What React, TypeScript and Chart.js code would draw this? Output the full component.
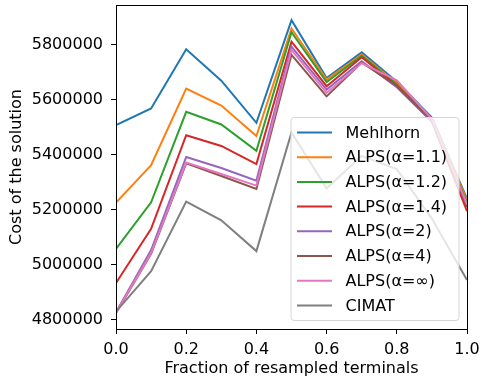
import React, { useEffect, useRef } from "react";
import { Chart, registerables } from "chart.js";

Chart.register(...registerables);

const fractions = [0.0, 0.1, 0.2, 0.3, 0.4, 0.5, 0.6, 0.7, 0.8, 0.9, 1.0];
const mehlhorn = [5508000, 5568000, 5783000, 5669000, 5516000, 5889000, 5679000, 5772000, 5665000, 5535000, 5240000];
const alps11 = [5226000, 5362000, 5640000, 5579000, 5468000, 5859000, 5673000, 5764000, 5660000, 5530000, 5235000];
const alps12 = [5058000, 5227000, 5556000, 5510000, 5414000, 5845000, 5664000, 5760000, 5655000, 5525000, 5225000];
const alps14 = [4934000, 5131000, 5471000, 5432000, 5366000, 5811000, 5649000, 5754000, 5650000, 5520000, 5195000];
const alps2 = [4828000, 5054000, 5392000, 5352000, 5306000, 5793000, 5637000, 5740000, 5645000, 5520000, 5215000];
const alps4 = [4825000, 5040000, 5369000, 5323000, 5276000, 5763000, 5612000, 5735000, 5650000, 5525000, 5210000];
const alpsInf = [4826000, 5043000, 5372000, 5330000, 5288000, 5781000, 5625000, 5733000, 5670000, 5530000, 5220000];
const cimat = [4830000, 4977000, 5230000, 5162000, 5050000, 5481000, 5278000, 5396000, 5348000, 5168000, 4945000];

const seriesNames = ["Mehlhorn", "ALPS(α=1.1)", "ALPS(α=1.2)", "ALPS(α=1.4)", "ALPS(α=2)", "ALPS(α=4)", "ALPS(α=∞)", "CIMAT"];
const seriesValues = [mehlhorn, alps11, alps12, alps14, alps2, alps4, alpsInf, cimat];
const seriesColors = ["#1f77b4", "#ff7f0e", "#2ca02c", "#d62728", "#9467bd", "#8c564b", "#e377c2", "#7f7f7f"];

const xTicks = [0.0, 0.2, 0.4, 0.6, 0.8, 1.0];
const yTicks = [4800000, 5000000, 5200000, 5400000, 5600000, 5800000];

const FONT = "DejaVu Sans";

const framePlugin = {
  id: "frame",
  afterDatasetsDraw(chart: any) {
    const { ctx, chartArea } = chart;
    ctx.save();
    ctx.strokeStyle = "#000";
    ctx.lineWidth = 1;
    ctx.strokeRect(
      Math.round(chartArea.left) + 0.5,
      Math.round(chartArea.top) + 0.5,
      Math.round(chartArea.right - chartArea.left),
      Math.round(chartArea.bottom - chartArea.top)
    );
    ctx.restore();
  },
  afterDraw(chart: any) {
    const { ctx } = chart;
    const x0 = 291, y0 = 117.5, w = 168, h = 203;
    ctx.save();
    ctx.beginPath();
    const r = 3;
    ctx.moveTo(x0 + r, y0);
    ctx.lineTo(x0 + w - r, y0);
    ctx.quadraticCurveTo(x0 + w, y0, x0 + w, y0 + r);
    ctx.lineTo(x0 + w, y0 + h - r);
    ctx.quadraticCurveTo(x0 + w, y0 + h, x0 + w - r, y0 + h);
    ctx.lineTo(x0 + r, y0 + h);
    ctx.quadraticCurveTo(x0, y0 + h, x0, y0 + h - r);
    ctx.lineTo(x0, y0 + r);
    ctx.quadraticCurveTo(x0, y0, x0 + r, y0);
    ctx.closePath();
    ctx.fillStyle = "rgba(255,255,255,0.8)";
    ctx.fill();
    ctx.strokeStyle = "#d6d6d6";
    ctx.lineWidth = 1;
    ctx.stroke();
    ctx.font = `16px "${FONT}"`;
    ctx.textBaseline = "middle";
    ctx.textAlign = "left";
    seriesNames.forEach((name, i) => {
      const cy = 132.5 + i * 24.7;
      ctx.strokeStyle = seriesColors[i];
      ctx.lineWidth = 2;
      ctx.beginPath();
      ctx.moveTo(297, cy);
      ctx.lineTo(332, cy);
      ctx.stroke();
      ctx.fillStyle = "#000";
      ctx.fillText(name, 345.5, cy + 1);
    });
    ctx.restore();
  },
};

export default function App() {
  const ref = useRef<HTMLCanvasElement | null>(null);
  useEffect(() => {
    document.body.style.margin = "0";
    const canvas = ref.current!;
    const chart = new Chart(canvas, {
      type: "line",
      data: {
        datasets: seriesNames.map((name, i) => ({
          label: name,
          data: fractions.map((x, j) => ({ x, y: seriesValues[i][j] })),
          borderColor: seriesColors[i],
          backgroundColor: seriesColors[i],
          borderWidth: 2,
          pointRadius: 0,
          tension: 0,
          fill: false,
          order: 10 - i,
        })),
      },
      options: {
        animation: false,
        responsive: false,
        maintainAspectRatio: false,
        layout: { padding: { top: 5, right: 15, left: 0, bottom: 0 } },
        plugins: { legend: { display: false }, tooltip: { enabled: false } },
        scales: {
          x: {
            type: "linear",
            min: 0,
            max: 1,
            afterBuildTicks: (axis: any) => {
              axis.ticks = xTicks.map((v) => ({ value: v }));
            },
            afterFit: (axis: any) => {
              axis.height = 52;
              axis.paddingLeft = 0;
              axis.paddingRight = 0;
            },
            ticks: {
              callback: (v: any) => Number(v).toFixed(1),
              font: { family: FONT, size: 16 },
              color: "#000",
              padding: 6,
              maxRotation: 0,
            },
            grid: { drawOnChartArea: false, drawTicks: true, tickLength: 5, color: "#000" },
            border: { display: false },
            title: {
              display: true,
              text: "Fraction of resampled terminals",
              font: { family: FONT, size: 16 },
              color: "#000",
              padding: { top: 2, bottom: 3 },
            },
          },
          y: {
            type: "linear",
            min: 4767000,
            max: 5944000,
            afterBuildTicks: (axis: any) => {
              axis.ticks = yTicks.map((v) => ({ value: v }));
            },
            afterFit: (axis: any) => {
              axis.width = 116;
              axis.paddingTop = 0;
              axis.paddingBottom = 0;
            },
            ticks: {
              callback: (v: any) => String(v),
              font: { family: FONT, size: 16 },
              color: "#000",
              padding: 8,
            },
            grid: { drawOnChartArea: false, drawTicks: true, tickLength: 5, color: "#000" },
            border: { display: false },
            title: {
              display: true,
              text: "Cost of the solution",
              font: { family: FONT, size: 16 },
              color: "#000",
              padding: { top: 7, bottom: 4 },
            },
          },
        },
      },
      plugins: [framePlugin],
    });
    return () => chart.destroy();
  }, []);
  return (
    <div style={{ width: 482, height: 381 }}>
      <canvas ref={ref} width={482} height={381} style={{ display: "block" }} />
    </div>
  );
}
